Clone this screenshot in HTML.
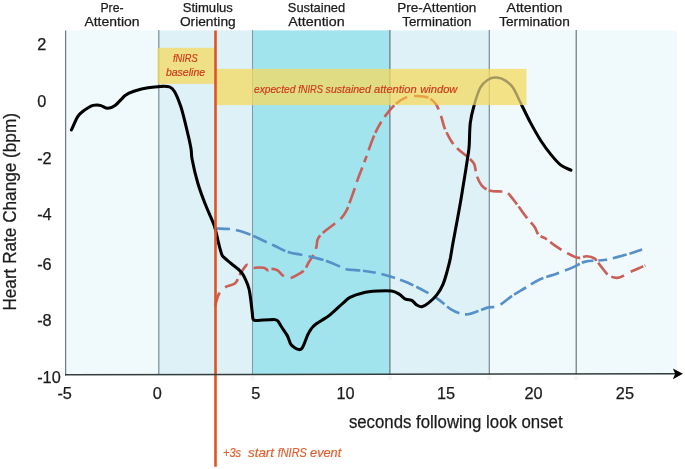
<!DOCTYPE html>
<html><head><meta charset="utf-8"><title>Heart rate phases</title>
<style>html,body{margin:0;padding:0;background:#fff}svg{display:block;will-change:transform}text{stroke:#1c1a1a;stroke-width:.25px}.it text{stroke:#cf3a1c;stroke-width:.2px}text.ev{stroke:#e0602f;stroke-width:.2px}</style></head>
<body>
<svg width="685" height="469" viewBox="0 0 685 469" font-family="'Liberation Sans', sans-serif" fill="#1c1a1a">
<rect width="685" height="469" fill="#fff"/>
<rect x="65.6" y="30.5" width="611.4" height="343.9" fill="#f0f9fb"/>
<rect x="158.8" y="30.5" width="330.5" height="343.9" fill="#ddf1f7"/>
<rect x="252.5" y="30.5" width="137.39999999999998" height="343.9" fill="#a2e4ed"/>
<line x1="158.8" y1="30.1" x2="158.8" y2="374.4" stroke="#7a8c94" stroke-width="1.2"/>
<line x1="252.5" y1="30.1" x2="252.5" y2="374.4" stroke="#8499a3" stroke-width="1.05"/>
<line x1="389.9" y1="30.1" x2="389.9" y2="374.4" stroke="#5f7076" stroke-width="1.15"/>
<line x1="489.3" y1="30.1" x2="489.3" y2="374.4" stroke="#7a8c94" stroke-width="1.2"/>
<line x1="576.2" y1="30.1" x2="576.2" y2="374.4" stroke="#626c6e" stroke-width="1.1"/>
<clipPath id="nb"><path clip-rule="evenodd" d="M0,0H685V469H0Z M216.5,68.9H526.5V105.1H216.5Z"/></clipPath>
<g clip-path="url(#nb)">
<path d="M215.1,305.9 C215.7,303.9 217.2,297.1 218.9,294.0 C220.6,290.9 222.4,289.1 225.1,287.3 C227.8,285.5 232.7,285.4 235.2,283.2 C237.7,281.0 238.3,277.0 240.2,274.0 C242.1,271.0 244.9,266.3 246.5,265.1 C248.1,263.9 248.9,266.1 250.0,266.6 C251.1,267.1 251.9,267.9 253.2,268.0 C254.5,268.1 256.2,267.5 258.0,267.5 C259.8,267.5 262.1,267.4 263.8,267.8 C265.5,268.2 266.8,270.0 268.0,270.2 C269.2,270.4 269.6,268.9 271.2,268.9 C272.8,268.9 275.5,269.1 277.5,270.3 C279.5,271.5 281.3,274.6 283.4,275.9 C285.5,277.2 287.9,278.1 290.2,278.0 C292.5,277.9 294.6,276.3 297.0,275.0 C299.4,273.7 302.3,272.4 304.3,270.2 C306.3,268.0 307.4,264.4 308.9,262.0 C310.4,259.6 311.9,258.0 313.1,255.5 C314.4,253.0 315.6,249.5 316.4,246.8 C317.2,244.1 316.6,241.6 317.7,239.3 C318.8,237.0 320.0,235.5 322.7,233.0 C325.4,230.5 330.9,226.7 334.0,224.2 C337.1,221.7 339.4,220.2 341.5,217.9 C343.6,215.6 345.3,212.6 346.6,210.3 C347.9,208.0 347.9,207.4 349.1,204.1 C350.4,200.8 352.6,194.4 354.1,190.2 C355.6,186.0 356.4,182.9 357.9,178.9 C359.4,174.9 361.6,169.3 362.9,166.0 C364.1,162.7 363.5,164.4 365.4,159.3 C367.3,154.2 371.3,142.1 374.2,135.4 C377.1,128.7 379.6,124.1 383.0,119.1 C386.4,114.1 390.5,108.9 394.3,105.3 C398.1,101.7 401.8,99.2 405.6,97.7 C409.4,96.2 413.1,96.0 416.9,96.0 C420.7,96.0 425.0,96.4 428.2,97.7 C431.4,99.0 433.7,101.1 435.8,104.0 C437.9,106.9 439.3,111.3 440.8,115.3 C442.3,119.3 442.9,123.7 444.6,127.9 C446.3,132.1 448.7,137.0 450.9,140.5 C453.1,144.0 454.9,146.0 457.7,148.8 C460.5,151.6 465.1,154.6 467.8,157.1 C470.5,159.6 472.6,160.9 474.1,163.9 C475.6,166.9 475.4,171.6 476.6,175.2 C477.9,178.8 479.3,182.7 481.6,185.3 C483.9,187.9 487.0,189.8 490.4,190.8 C493.8,191.8 498.8,191.1 501.7,191.5 C504.6,191.9 505.5,191.2 508.0,193.3 C510.5,195.4 513.6,200.0 516.8,204.1 C519.9,208.2 524.0,214.1 526.9,217.9 C529.8,221.7 532.4,223.9 534.4,226.7 C536.4,229.5 536.8,232.8 538.6,234.8 C540.5,236.8 542.8,236.7 545.5,238.5 C548.2,240.3 551.5,243.3 555.0,245.7 C558.5,248.1 562.8,250.8 566.6,252.8 C570.4,254.8 574.5,257.2 577.9,257.8 C581.2,258.4 584.0,256.2 586.7,256.3 C589.4,256.4 592.0,256.7 594.3,258.3 C596.6,259.9 598.3,263.1 600.6,265.9 C602.9,268.7 605.4,272.9 608.1,274.9 C610.8,276.9 614.4,277.7 616.9,277.9 C619.4,278.1 620.9,276.9 623.2,275.9 C625.5,274.9 627.9,273.1 630.8,271.7 C633.7,270.3 638.4,268.4 640.8,267.4 C643.2,266.3 644.5,265.7 645.3,265.4" fill="none" stroke="#ca5f58" stroke-width="2.65" stroke-dasharray="14.0 7.7 15.8 4.3 13.5 7.0 15.4 3.3 14.9 7.0 15.0 3.9 14.8 6.4 14.7 3.3 15.5 7.1 14.4 3.9 15.8 6.7 15.1 5.9 7.0 5.8 15.7 2.7 12.9 5.8 15.2 1.9 13.4 6.9 14.6 2.0 13.9 6.8 14.2 3.2 13.5 5.7 14.2 2.4 14.1 5.6 16.2 2.4 13.5 6.3 14.3 2.8 14.3 5.5 13.9 3.2 7.4 4.0 13.7 6.5 14.0 3.0 15.2 2.4 14.9 4.4 13.4 7.7 13.5 1.5 7.0 50.0" stroke-linecap="butt"/>
<path d="M215.8,228.5 C218.2,228.6 226.0,228.6 230.0,229.0 C234.0,229.4 236.7,230.1 240.0,231.0 C243.3,231.9 246.3,233.0 250.0,234.5 C253.7,236.0 257.8,238.1 262.0,240.0 C266.2,241.9 270.7,244.0 275.0,246.0 C279.3,248.0 283.8,250.6 288.0,252.0 C292.2,253.4 296.0,253.7 300.0,254.5 C304.0,255.3 307.8,256.0 312.0,257.0 C316.2,258.0 320.3,258.9 325.0,260.5 C329.7,262.1 336.2,265.0 340.0,266.5 C343.8,268.0 343.7,268.8 347.5,269.5 C351.3,270.2 357.6,270.1 362.6,270.7 C367.6,271.3 372.7,272.1 377.7,273.2 C382.7,274.3 387.8,275.7 392.8,277.3 C397.8,278.9 402.4,280.4 407.9,282.8 C413.3,285.2 420.5,288.9 425.5,291.6 C430.5,294.3 433.9,296.2 438.1,299.1 C442.3,302.0 446.8,306.8 450.6,309.2 C454.4,311.6 457.8,312.9 460.7,313.7 C463.6,314.5 465.3,314.6 468.2,314.2 C471.1,313.8 474.9,312.1 478.3,311.0 C481.7,309.9 485.0,308.2 488.4,307.4 C491.8,306.5 494.4,307.9 498.4,305.9 C502.4,303.9 508.2,298.5 512.6,295.5 C517.1,292.5 520.5,290.7 525.1,288.0 C529.7,285.3 535.0,281.6 540.2,279.2 C545.5,276.8 551.2,275.7 556.6,273.7 C562.0,271.7 568.1,269.4 572.9,267.4 C577.7,265.4 580.0,262.9 585.5,261.6 C591.0,260.3 598.9,260.9 605.6,259.8 C612.3,258.7 619.6,256.5 625.7,254.8 C631.8,253.1 639.4,250.4 642.1,249.5" fill="none" stroke="#5690c8" stroke-width="2.65" stroke-dasharray="14.2 6.0 15.4 3.1 14.8 5.8 14.5 2.7 15.0 6.4 15.5 2.6 15.0 6.2 14.7 2.7 13.0 5.8 14.1 5.4 14.6 3.1 13.5 7.4 12.3 3.3 14.2 5.9 14.0 2.7 13.7 6.9 14.2 2.4 14.2 5.6 14.1 3.0 13.5 6.3 16.3 2.3 11.9 4.8 8.9 5.8 14.3 3.0 18.3 50.0"/>
<path d="M71.4,129.9 C72.5,127.7 75.8,119.7 77.7,116.6 C79.6,113.5 80.8,113.1 82.7,111.5 C84.6,109.9 87.3,108.2 89.0,107.2 C90.7,106.2 91.7,105.8 93.0,105.4 C94.3,105.0 95.7,104.9 97.0,104.9 C98.3,104.9 99.2,105.0 101.0,105.6 C102.8,106.2 105.5,108.3 107.9,108.3 C110.3,108.2 112.5,107.5 115.4,105.3 C118.3,103.1 122.2,97.6 125.5,95.2 C128.8,92.8 131.8,92.0 135.5,90.7 C139.2,89.5 143.8,88.4 148.0,87.7 C152.2,87.0 157.1,86.5 160.7,86.4 C164.3,86.3 167.2,86.1 169.5,86.9 C171.8,87.7 172.6,88.1 174.5,91.4 C176.4,94.7 178.9,100.8 180.8,106.5 C182.7,112.2 184.1,118.5 185.8,125.4 C187.5,132.3 189.9,142.3 190.9,148.0 C191.9,153.7 191.0,153.5 192.1,159.3 C193.2,165.1 195.5,175.2 197.7,182.7 C199.9,190.1 202.4,196.9 205.2,204.0 C207.9,211.1 212.0,219.1 214.2,225.5 C216.4,231.9 217.2,237.7 218.4,242.4 C219.6,247.2 220.7,251.5 221.6,254.0 C222.5,256.5 222.1,255.6 223.7,257.2 C225.3,258.8 228.5,261.3 231.1,263.5 C233.7,265.7 237.6,268.5 239.5,270.3 C241.4,272.1 241.6,272.4 242.7,274.1 C243.8,275.8 244.8,277.9 245.9,280.4 C247.0,282.8 248.2,285.6 249.0,288.8 C249.8,292.0 250.2,295.5 250.7,299.4 C251.2,303.3 251.8,308.8 252.2,312.0 C252.6,315.2 252.5,317.2 252.9,318.6 C253.3,320.0 253.7,320.0 254.5,320.3 C255.3,320.6 255.4,320.5 258.0,320.4 C260.6,320.3 267.1,319.8 270.0,319.7 C272.9,319.6 274.0,319.4 275.4,319.7 C276.8,319.9 277.1,320.0 278.1,321.2 C279.1,322.4 280.1,324.7 281.6,327.0 C283.1,329.3 285.7,332.9 287.0,335.1 C288.3,337.3 288.5,338.8 289.2,340.4 C289.9,342.0 290.0,343.2 291.0,344.5 C292.0,345.8 293.8,347.1 295.1,348.0 C296.5,348.9 298.0,349.5 299.1,349.6 C300.2,349.7 300.9,349.6 301.8,348.5 C302.7,347.4 303.5,345.3 304.5,343.1 C305.5,340.9 306.5,337.5 307.6,335.1 C308.7,332.7 309.9,330.6 311.2,328.8 C312.5,327.0 313.9,325.7 315.7,324.3 C317.5,322.9 319.5,321.9 321.9,320.3 C324.3,318.7 326.4,317.8 330.0,314.9 C333.6,312.0 340.0,305.8 343.3,302.9 C346.6,300.0 346.8,299.1 350.0,297.4 C353.2,295.7 358.0,293.9 362.6,292.9 C367.2,291.8 372.9,291.4 377.7,291.1 C382.5,290.8 387.9,290.6 391.5,291.1 C395.1,291.6 396.8,292.8 399.1,294.1 C401.4,295.4 403.3,298.1 405.4,299.1 C407.5,300.2 409.8,299.4 411.7,300.4 C413.6,301.4 415.0,303.8 416.7,304.9 C418.4,305.9 419.8,306.9 421.7,306.7 C423.6,306.4 425.5,305.4 428.0,303.4 C430.5,301.4 434.3,298.1 436.8,294.9 C439.3,291.7 441.2,288.6 443.1,284.1 C445.0,279.6 446.9,272.1 448.1,267.7 C449.3,263.3 449.6,261.8 450.4,258.0 C451.1,254.2 451.8,249.5 452.6,245.0 C453.4,240.5 454.3,235.8 455.2,231.0 C456.1,226.2 457.1,220.9 458.0,216.0 C458.9,211.1 459.6,207.2 460.6,201.5 C461.6,195.8 462.6,189.2 463.8,182.0 C465.0,174.8 466.7,164.1 467.6,158.0 C468.5,151.9 468.8,151.3 469.2,145.5 C469.6,139.7 469.5,129.6 470.3,122.9 C471.1,116.2 472.4,111.2 474.1,105.3 C475.8,99.4 478.0,92.0 480.3,87.7 C482.6,83.4 485.2,81.4 487.9,79.7 C490.6,78.0 493.8,77.4 496.7,77.6 C499.6,77.8 502.8,78.9 505.5,80.6 C508.2,82.3 510.5,84.0 513.0,87.7 C515.5,91.4 517.7,96.9 520.6,102.8 C523.5,108.7 527.2,116.6 530.6,122.9 C534.0,129.2 537.3,135.2 540.7,140.5 C544.1,145.8 547.4,150.3 550.8,154.4 C554.1,158.5 557.4,162.5 560.8,165.1 C564.1,167.7 569.2,169.3 570.9,170.2" fill="none" stroke="#000" stroke-width="3.05" stroke-linecap="round" stroke-linejoin="round"/>
</g>
<rect x="157.4" y="47.8" width="56.8" height="36.1" fill="#f5d95e" fill-opacity="0.74"/>
<rect x="216.5" y="68.9" width="310" height="36.2" fill="#f5d95e" fill-opacity="0.74"/>
<clipPath id="yb"><rect x="216.5" y="68.9" width="310" height="36.2"/></clipPath>
<g clip-path="url(#yb)">
<path d="M215.1,305.9 C215.7,303.9 217.2,297.1 218.9,294.0 C220.6,290.9 222.4,289.1 225.1,287.3 C227.8,285.5 232.7,285.4 235.2,283.2 C237.7,281.0 238.3,277.0 240.2,274.0 C242.1,271.0 244.9,266.3 246.5,265.1 C248.1,263.9 248.9,266.1 250.0,266.6 C251.1,267.1 251.9,267.9 253.2,268.0 C254.5,268.1 256.2,267.5 258.0,267.5 C259.8,267.5 262.1,267.4 263.8,267.8 C265.5,268.2 266.8,270.0 268.0,270.2 C269.2,270.4 269.6,268.9 271.2,268.9 C272.8,268.9 275.5,269.1 277.5,270.3 C279.5,271.5 281.3,274.6 283.4,275.9 C285.5,277.2 287.9,278.1 290.2,278.0 C292.5,277.9 294.6,276.3 297.0,275.0 C299.4,273.7 302.3,272.4 304.3,270.2 C306.3,268.0 307.4,264.4 308.9,262.0 C310.4,259.6 311.9,258.0 313.1,255.5 C314.4,253.0 315.6,249.5 316.4,246.8 C317.2,244.1 316.6,241.6 317.7,239.3 C318.8,237.0 320.0,235.5 322.7,233.0 C325.4,230.5 330.9,226.7 334.0,224.2 C337.1,221.7 339.4,220.2 341.5,217.9 C343.6,215.6 345.3,212.6 346.6,210.3 C347.9,208.0 347.9,207.4 349.1,204.1 C350.4,200.8 352.6,194.4 354.1,190.2 C355.6,186.0 356.4,182.9 357.9,178.9 C359.4,174.9 361.6,169.3 362.9,166.0 C364.1,162.7 363.5,164.4 365.4,159.3 C367.3,154.2 371.3,142.1 374.2,135.4 C377.1,128.7 379.6,124.1 383.0,119.1 C386.4,114.1 390.5,108.9 394.3,105.3 C398.1,101.7 401.8,99.2 405.6,97.7 C409.4,96.2 413.1,96.0 416.9,96.0 C420.7,96.0 425.0,96.4 428.2,97.7 C431.4,99.0 433.7,101.1 435.8,104.0 C437.9,106.9 439.3,111.3 440.8,115.3 C442.3,119.3 442.9,123.7 444.6,127.9 C446.3,132.1 448.7,137.0 450.9,140.5 C453.1,144.0 454.9,146.0 457.7,148.8 C460.5,151.6 465.1,154.6 467.8,157.1 C470.5,159.6 472.6,160.9 474.1,163.9 C475.6,166.9 475.4,171.6 476.6,175.2 C477.9,178.8 479.3,182.7 481.6,185.3 C483.9,187.9 487.0,189.8 490.4,190.8 C493.8,191.8 498.8,191.1 501.7,191.5 C504.6,191.9 505.5,191.2 508.0,193.3 C510.5,195.4 513.6,200.0 516.8,204.1 C519.9,208.2 524.0,214.1 526.9,217.9 C529.8,221.7 532.4,223.9 534.4,226.7 C536.4,229.5 536.8,232.8 538.6,234.8 C540.5,236.8 542.8,236.7 545.5,238.5 C548.2,240.3 551.5,243.3 555.0,245.7 C558.5,248.1 562.8,250.8 566.6,252.8 C570.4,254.8 574.5,257.2 577.9,257.8 C581.2,258.4 584.0,256.2 586.7,256.3 C589.4,256.4 592.0,256.7 594.3,258.3 C596.6,259.9 598.3,263.1 600.6,265.9 C602.9,268.7 605.4,272.9 608.1,274.9 C610.8,276.9 614.4,277.7 616.9,277.9 C619.4,278.1 620.9,276.9 623.2,275.9 C625.5,274.9 627.9,273.1 630.8,271.7 C633.7,270.3 638.4,268.4 640.8,267.4 C643.2,266.3 644.5,265.7 645.3,265.4" fill="none" stroke="#e9a043" stroke-width="2.5" stroke-dasharray="14.0 7.7 15.8 4.3 13.5 7.0 15.4 3.3 14.9 7.0 15.0 3.9 14.8 6.4 14.7 3.3 15.5 7.1 14.4 3.9 15.8 6.7 15.1 5.9 7.0 5.8 15.7 2.7 12.9 5.8 15.2 1.9 13.4 6.9 14.6 2.0 13.9 6.8 14.2 3.2 13.5 5.7 14.2 2.4 14.1 5.6 16.2 2.4 13.5 6.3 14.3 2.8 14.3 5.5 13.9 3.2 7.4 4.0 13.7 6.5 14.0 3.0 15.2 2.4 14.9 4.4 13.4 7.7 13.5 1.5 7.0 50.0"/>
<path d="M71.4,129.9 C72.5,127.7 75.8,119.7 77.7,116.6 C79.6,113.5 80.8,113.1 82.7,111.5 C84.6,109.9 87.3,108.2 89.0,107.2 C90.7,106.2 91.7,105.8 93.0,105.4 C94.3,105.0 95.7,104.9 97.0,104.9 C98.3,104.9 99.2,105.0 101.0,105.6 C102.8,106.2 105.5,108.3 107.9,108.3 C110.3,108.2 112.5,107.5 115.4,105.3 C118.3,103.1 122.2,97.6 125.5,95.2 C128.8,92.8 131.8,92.0 135.5,90.7 C139.2,89.5 143.8,88.4 148.0,87.7 C152.2,87.0 157.1,86.5 160.7,86.4 C164.3,86.3 167.2,86.1 169.5,86.9 C171.8,87.7 172.6,88.1 174.5,91.4 C176.4,94.7 178.9,100.8 180.8,106.5 C182.7,112.2 184.1,118.5 185.8,125.4 C187.5,132.3 189.9,142.3 190.9,148.0 C191.9,153.7 191.0,153.5 192.1,159.3 C193.2,165.1 195.5,175.2 197.7,182.7 C199.9,190.1 202.4,196.9 205.2,204.0 C207.9,211.1 212.0,219.1 214.2,225.5 C216.4,231.9 217.2,237.7 218.4,242.4 C219.6,247.2 220.7,251.5 221.6,254.0 C222.5,256.5 222.1,255.6 223.7,257.2 C225.3,258.8 228.5,261.3 231.1,263.5 C233.7,265.7 237.6,268.5 239.5,270.3 C241.4,272.1 241.6,272.4 242.7,274.1 C243.8,275.8 244.8,277.9 245.9,280.4 C247.0,282.8 248.2,285.6 249.0,288.8 C249.8,292.0 250.2,295.5 250.7,299.4 C251.2,303.3 251.8,308.8 252.2,312.0 C252.6,315.2 252.5,317.2 252.9,318.6 C253.3,320.0 253.7,320.0 254.5,320.3 C255.3,320.6 255.4,320.5 258.0,320.4 C260.6,320.3 267.1,319.8 270.0,319.7 C272.9,319.6 274.0,319.4 275.4,319.7 C276.8,319.9 277.1,320.0 278.1,321.2 C279.1,322.4 280.1,324.7 281.6,327.0 C283.1,329.3 285.7,332.9 287.0,335.1 C288.3,337.3 288.5,338.8 289.2,340.4 C289.9,342.0 290.0,343.2 291.0,344.5 C292.0,345.8 293.8,347.1 295.1,348.0 C296.5,348.9 298.0,349.5 299.1,349.6 C300.2,349.7 300.9,349.6 301.8,348.5 C302.7,347.4 303.5,345.3 304.5,343.1 C305.5,340.9 306.5,337.5 307.6,335.1 C308.7,332.7 309.9,330.6 311.2,328.8 C312.5,327.0 313.9,325.7 315.7,324.3 C317.5,322.9 319.5,321.9 321.9,320.3 C324.3,318.7 326.4,317.8 330.0,314.9 C333.6,312.0 340.0,305.8 343.3,302.9 C346.6,300.0 346.8,299.1 350.0,297.4 C353.2,295.7 358.0,293.9 362.6,292.9 C367.2,291.8 372.9,291.4 377.7,291.1 C382.5,290.8 387.9,290.6 391.5,291.1 C395.1,291.6 396.8,292.8 399.1,294.1 C401.4,295.4 403.3,298.1 405.4,299.1 C407.5,300.2 409.8,299.4 411.7,300.4 C413.6,301.4 415.0,303.8 416.7,304.9 C418.4,305.9 419.8,306.9 421.7,306.7 C423.6,306.4 425.5,305.4 428.0,303.4 C430.5,301.4 434.3,298.1 436.8,294.9 C439.3,291.7 441.2,288.6 443.1,284.1 C445.0,279.6 446.9,272.1 448.1,267.7 C449.3,263.3 449.6,261.8 450.4,258.0 C451.1,254.2 451.8,249.5 452.6,245.0 C453.4,240.5 454.3,235.8 455.2,231.0 C456.1,226.2 457.1,220.9 458.0,216.0 C458.9,211.1 459.6,207.2 460.6,201.5 C461.6,195.8 462.6,189.2 463.8,182.0 C465.0,174.8 466.7,164.1 467.6,158.0 C468.5,151.9 468.8,151.3 469.2,145.5 C469.6,139.7 469.5,129.6 470.3,122.9 C471.1,116.2 472.4,111.2 474.1,105.3 C475.8,99.4 478.0,92.0 480.3,87.7 C482.6,83.4 485.2,81.4 487.9,79.7 C490.6,78.0 493.8,77.4 496.7,77.6 C499.6,77.8 502.8,78.9 505.5,80.6 C508.2,82.3 510.5,84.0 513.0,87.7 C515.5,91.4 517.7,96.9 520.6,102.8 C523.5,108.7 527.2,116.6 530.6,122.9 C534.0,129.2 537.3,135.2 540.7,140.5 C544.1,145.8 547.4,150.3 550.8,154.4 C554.1,158.5 557.4,162.5 560.8,165.1 C564.1,167.7 569.2,169.3 570.9,170.2" fill="none" stroke="#a4985f" stroke-width="2.5" stroke-linecap="round" stroke-linejoin="round"/>
</g>
<line x1="215.5" y1="30.5" x2="215.5" y2="466.7" stroke="#e2521f" stroke-width="2.6"/>
<circle cx="252.5" cy="378.3" r="2.3" fill="#f5f6f6"/>
<circle cx="389.9" cy="378.3" r="2.3" fill="#f5f6f6"/>
<circle cx="489.3" cy="378.3" r="2.3" fill="#f5f6f6"/>
<circle cx="576.2" cy="378.3" r="2.3" fill="#f5f6f6"/>
<line x1="65.6" y1="30.5" x2="65.6" y2="375.4" stroke="#6f7d82" stroke-width="1.25"/>
<line x1="65" y1="374.7" x2="675" y2="373.8" stroke="#343d3d" stroke-width="1.5"/>
<path d="M682.9,373.8 L672.9,368.4 L675.2,373.8 L672.9,379.2 Z" fill="#000"/>
<text x="112" y="11.8" font-size="13.6" text-anchor="middle" textLength="23.1" lengthAdjust="spacingAndGlyphs">Pre-</text>
<text x="112" y="25.9" font-size="13.6" text-anchor="middle" textLength="55.2" lengthAdjust="spacingAndGlyphs">Attention</text>
<text x="207.8" y="11.8" font-size="13.6" text-anchor="middle" textLength="50.2" lengthAdjust="spacingAndGlyphs">Stimulus</text>
<text x="207.8" y="25.9" font-size="13.6" text-anchor="middle" textLength="55.8" lengthAdjust="spacingAndGlyphs">Orienting</text>
<text x="316.5" y="11.8" font-size="13.6" text-anchor="middle" textLength="57.3" lengthAdjust="spacingAndGlyphs">Sustained</text>
<text x="316.5" y="25.9" font-size="13.6" text-anchor="middle" textLength="56.3" lengthAdjust="spacingAndGlyphs">Attention</text>
<text x="436.8" y="11.8" font-size="13.6" text-anchor="middle" textLength="79.2" lengthAdjust="spacingAndGlyphs">Pre-Attention</text>
<text x="436.8" y="25.9" font-size="13.6" text-anchor="middle" textLength="69.1" lengthAdjust="spacingAndGlyphs">Termination</text>
<text x="534.5" y="11.8" font-size="13.6" text-anchor="middle" textLength="56.1" lengthAdjust="spacingAndGlyphs">Attention</text>
<text x="534.5" y="25.9" font-size="13.6" text-anchor="middle" textLength="70.6" lengthAdjust="spacingAndGlyphs">Termination</text>
<text x="37.2" y="50.4" font-size="16.3" text-anchor="start" >2</text>
<text x="37.2" y="107.39999999999999" font-size="16.3" text-anchor="start" >0</text>
<text x="37.2" y="164.10000000000002" font-size="16.3" text-anchor="start" >-2</text>
<text x="37.2" y="220.0" font-size="16.3" text-anchor="start" >-4</text>
<text x="37.2" y="269.7" font-size="16.3" text-anchor="start" >-6</text>
<text x="37.2" y="326.2" font-size="16.3" text-anchor="start" >-8</text>
<text x="37.2" y="383" font-size="16.3" text-anchor="start" >-10</text>
<text x="64.7" y="399.4" font-size="16.3" text-anchor="middle" >-5</text>
<text x="157.2" y="399.4" font-size="16.3" text-anchor="middle" >0</text>
<text x="255.7" y="399.4" font-size="16.3" text-anchor="middle" >5</text>
<text x="345.5" y="399.4" font-size="16.3" text-anchor="middle" >10</text>
<text x="446" y="399.4" font-size="16.3" text-anchor="middle" >15</text>
<text x="533.5" y="399.4" font-size="16.3" text-anchor="middle" >20</text>
<text x="624.9" y="399.4" font-size="16.3" text-anchor="middle" >25</text>
<text x="348.9" y="428.4" font-size="18" text-anchor="start" textLength="213.7" lengthAdjust="spacingAndGlyphs">seconds following look onset</text>
<text transform="translate(15.6,310.6) rotate(-90)" font-size="19" textLength="197.5" lengthAdjust="spacingAndGlyphs">Heart Rate Change (bpm)</text>
<g class="it" font-style="italic" fill="#cf3a1c">
<text x="185.3" y="62.1" font-size="11.6" text-anchor="middle" textLength="24.6" lengthAdjust="spacingAndGlyphs">fNIRS</text>
<text x="185.5" y="76.3" font-size="11.8" text-anchor="middle" textLength="39.2" lengthAdjust="spacingAndGlyphs">baseline</text>
<text x="254" y="92.8" font-size="11.6" text-anchor="start" textLength="41.4" lengthAdjust="spacingAndGlyphs">expected</text>
<text x="298.2" y="92.8" font-size="11.6" text-anchor="start" textLength="24.8" lengthAdjust="spacingAndGlyphs">fNIRS</text>
<text x="325.6" y="92.8" font-size="11.6" text-anchor="start" textLength="45.3" lengthAdjust="spacingAndGlyphs">sustained</text>
<text x="374.1" y="92.8" font-size="11.6" text-anchor="start" textLength="42.6" lengthAdjust="spacingAndGlyphs">attention</text>
<text x="420.3" y="92.8" font-size="11.6" text-anchor="start" textLength="37.1" lengthAdjust="spacingAndGlyphs">window</text>
</g>
<text x="223" y="457.1" font-size="13.2" text-anchor="start" class="ev" font-style="italic" fill="#e0602f" textLength="18.1" lengthAdjust="spacingAndGlyphs">+3s</text>
<text x="248.1" y="457.1" font-size="13.2" text-anchor="start" class="ev" font-style="italic" fill="#e0602f" textLength="25.9" lengthAdjust="spacingAndGlyphs">start</text>
<text x="277.7" y="457.1" font-size="13.2" text-anchor="start" class="ev" font-style="italic" fill="#e0602f" textLength="29.1" lengthAdjust="spacingAndGlyphs">fNIRS</text>
<text x="310.1" y="457.1" font-size="13.2" text-anchor="start" class="ev" font-style="italic" fill="#e0602f" textLength="31.1" lengthAdjust="spacingAndGlyphs">event</text>
</svg>
</body></html>
